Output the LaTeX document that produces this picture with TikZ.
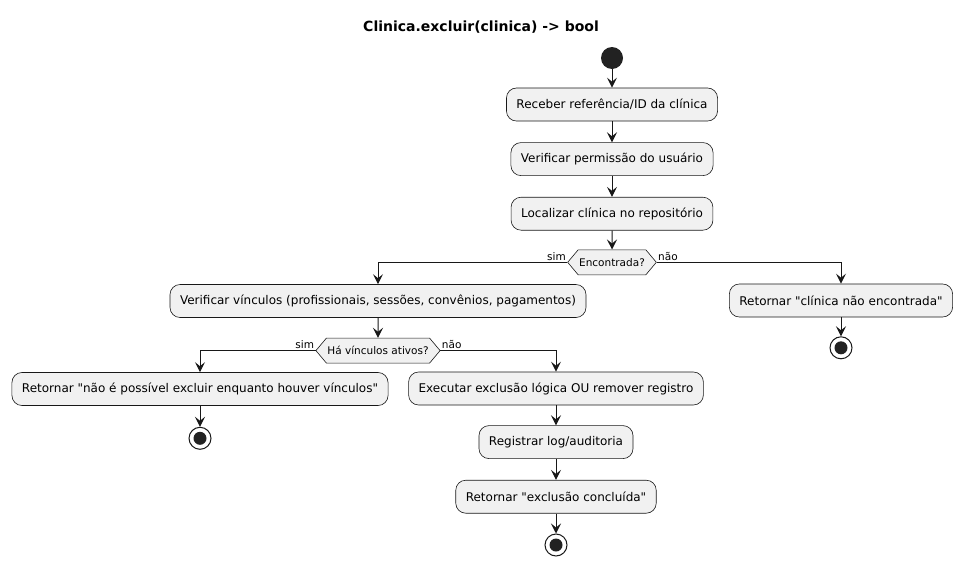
\documentclass[tikz,border=0pt]{standalone}
\usepackage{fontspec}
\setmainfont{DejaVu Sans}[Ligatures=TeXOff]
\usepackage{xcolor}
\usetikzlibrary{shapes.symbols,positioning,arrows.meta}
\definecolor{umlfill}{HTML}{F1F1F1}
\definecolor{umlline}{HTML}{181818}
\definecolor{umldot}{HTML}{222222}
\tikzset{
  act box/.style={rectangle, rounded corners=10pt, draw=umlline, line width=0.6pt, fill=umlfill, minimum height=33pt, inner xsep=10pt, font=\fontsize{12}{14}\selectfont},
  act choice/.style={signal, signal to=east and west, signal pointer angle=100, draw=umlline, line width=0.6pt, fill=umlfill, minimum height=25pt, inner xsep=1pt, inner ysep=0pt, font=\fontsize{10.5}{12}\selectfont},
  act start/.style={circle, fill=umldot, minimum size=22pt, inner sep=0pt},
  act stop/.style={circle, draw=umlline, line width=1pt, fill=white, minimum size=22pt, inner sep=0pt, path picture={\fill[umldot] (path picture bounding box.center) circle (6.5pt);}},
  flow/.style={-{Stealth[length=10pt,width=10pt,inset=4pt]}, line width=1pt, draw=umlline},
  guard/.style={font=\fontsize{10.5}{12}\selectfont, inner sep=1pt}
}

\begin{document}
\begin{tikzpicture}[x=1pt, y=-1pt, node distance=21pt]
    \useasboundingbox (0,0) rectangle (962,565);
    \node [font=\fontsize{14}{16}\selectfont\bfseries] (title) at (481,27) {Clinica.excluir(clinica) -> bool};

    % main line
    \node [act start] (start) at (612,58) {};
    \node [act box] (recv) at (612,104.5) {Receber referência/ID da clínica};
    \node [act box, below=of recv] (perm) {Verificar permissão do usuário};
    \node [act box, below=of perm] (find) {Localizar clínica no repositório};
    \node [act choice, below=19pt of find] (found) {Encontrada?};
    \draw [flow] (start) -- (recv);
    \draw [flow] (recv) -- (perm);
    \draw [flow] (perm) -- (find);
    \draw [flow] (find) -- (found);

    % found: sim
    \node [act box] (links) at (378,301) {Verificar vínculos (profissionais, sessões, convênios, pagamentos)};
    \node [act choice, below=20pt of links] (active) {Há vínculos ativos?};
    \draw [flow] (found.west) -| (links.north) node [guard, pos=0, anchor=south east] {sim};
    \draw [flow] (links) -- (active);

    % active: sim
    \node [act box] (blocked) at (200,389) {Retornar "não é possível excluir enquanto houver vínculos"};
    \node [act stop, below=of blocked] (stopA) {};
    \draw [flow] (active.west) -| (blocked.north) node [guard, pos=0, anchor=south east] {sim};
    \draw [flow] (blocked) -- (stopA);

    % active: não
    \node [act box] (remove) at (556,388.5) {Executar exclusão lógica OU remover registro};
    \node [act box, below=20pt of remove] (log) {Registrar log/auditoria};
    \node [act box, below=21pt of log] (done) {Retornar "exclusão concluída"};
    \node [act stop, below=20pt of done] (stopB) {};
    \draw [flow] (active.east) -| (remove.north) node [guard, pos=0, anchor=south west] {não};
    \draw [flow] (remove) -- (log);
    \draw [flow] (log) -- (done);
    \draw [flow] (done) -- (stopB);

    % found: não
    \node [act box] (missing) at (841,300.5) {Retornar "clínica não encontrada"};
    \node [act stop, below=19pt of missing] (stopC) {};
    \draw [flow] (found.east) -| (missing.north) node [guard, pos=0, anchor=south west] {não};
    \draw [flow] (missing) -- (stopC);
\end{tikzpicture}
\end{document}
